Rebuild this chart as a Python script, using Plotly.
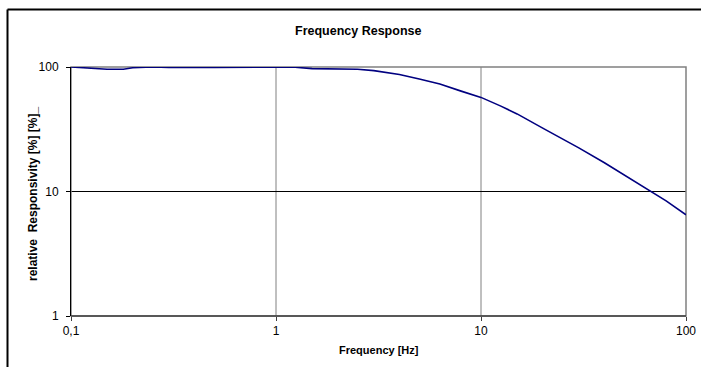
import plotly.graph_objects as go

freq_hz = [0.1, 0.12, 0.15, 0.18, 0.2, 0.25, 0.3, 0.5, 0.7, 1.0, 1.2, 1.5, 2.0, 2.5, 3.0,
           4.0, 5.0, 6.3, 8.0, 10.0, 12.5, 15.0, 20.0, 25.0, 30.0, 40.0, 50.0, 60.0, 70.0, 80.0, 100.0]
responsivity = [100, 98.5, 96, 96, 98.5, 100, 99, 99, 99, 99, 100, 97, 97, 96, 93.5,
                87, 80, 73, 64, 57, 48.5, 42, 32.3, 26.4, 22.4, 17, 13.6, 11.3, 9.7, 8.4, 6.5]

x_tickvals = [0.1, 1, 10, 100]
x_ticktext = ["0,1", "1", "10", "100"]
y_tickvals = [1, 10, 100]
y_ticktext = ["1", "10", "100"]

FONT = "Liberation Sans, Arial, sans-serif"

fig = go.Figure()
fig.add_trace(go.Scatter(x=freq_hz, y=responsivity, mode="lines",
                         line=dict(color="#000080", width=1.6), showlegend=False,
                         hoverinfo="x+y"))

W, H = 701, 367
L, R, T, B = 71, 15, 67, 51
pw, ph = W - L - R, H - T - B

def px_x(px):
    return (px - L) / pw

def px_y(py):
    return (H - B - py) / ph

shapes = [
    dict(type="line", xref="x", yref="paper", x0=1, x1=1, y0=0, y1=1,
         line=dict(color="#808080", width=1), layer="below"),
    dict(type="line", xref="x", yref="paper", x0=10, x1=10, y0=0, y1=1,
         line=dict(color="#808080", width=1), layer="below"),
    dict(type="line", xref="paper", yref="y", x0=0, x1=1, y0=10, y1=10,
         line=dict(color="#000000", width=1), layer="below"),
    dict(type="rect", xref="paper", yref="paper", x0=0, x1=1, y0=0, y1=1,
         line=dict(color="#808080", width=1.5), layer="below"),
    dict(type="line", xref="paper", yref="paper", x0=0, x1=1, y0=0, y1=0,
         line=dict(color="#404040", width=1.5), layer="below"),
    dict(type="line", xref="paper", yref="paper", x0=px_x(7.5), x1=px_x(7.5),
         y0=px_y(400), y1=px_y(9.5), line=dict(color="#000000", width=2)),
    dict(type="line", xref="paper", yref="paper", x0=px_x(7.5), x1=px_x(760),
         y0=px_y(9.5), y1=px_y(9.5), line=dict(color="#000000", width=2)),
]

annotations = [
    dict(text="<b>Frequency Response</b>", xref="paper", yref="paper",
         x=px_x(358), y=px_y(31), xanchor="center", yanchor="middle", showarrow=False,
         font=dict(family=FONT, size=12.5, color="#000")),
    dict(text="<b>Frequency [Hz]</b>", xref="paper", yref="paper",
         x=px_x(379), y=px_y(350), xanchor="center", yanchor="middle", showarrow=False,
         font=dict(family=FONT, size=11, color="#000")),
    dict(text="<b>relative&nbsp; Responsivity [%] [%]_</b>", xref="paper", yref="paper",
         x=px_x(33), y=px_y(194), xanchor="center", yanchor="middle", showarrow=False,
         textangle=-90, font=dict(family=FONT, size=12, color="#000")),
]

fig.update_layout(
    width=W, height=H,
    margin=dict(l=L, r=R, t=T, b=B, autoexpand=False),
    paper_bgcolor="white", plot_bgcolor="white",
    font=dict(family=FONT, size=12, color="#000"),
    shapes=shapes, annotations=annotations,
    xaxis=dict(type="log", range=[-1, 2], tickvals=x_tickvals, ticktext=x_ticktext,
               showgrid=False, zeroline=False, showline=False, automargin=False,
               ticks="outside", ticklen=4, tickcolor="#404040", tickfont=dict(size=12)),
    yaxis=dict(type="log", range=[0, 2], tickvals=y_tickvals, ticktext=y_ticktext,
               showgrid=False, zeroline=False, showline=True, linecolor="#000", linewidth=1,
               automargin=False,
               ticks="outside", ticklen=4, tickcolor="#000", tickfont=dict(size=12),
               ticklabelstandoff=5),
)

fig.write_html("out.html", config={"displayModeBar": False},
               post_script="document.body.style.margin='0px';")
